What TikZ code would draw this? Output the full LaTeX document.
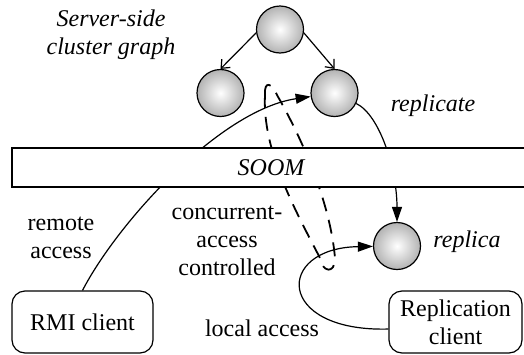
\documentclass[tikz,border=0pt]{standalone}
\usepackage{fontspec}
\setmainfont{Liberation Serif}
\usetikzlibrary{arrows.meta}
\begin{document}
\begin{tikzpicture}[x=0.5pt,y=-0.5pt,
  txt/.style={font=\fontsize{12}{14}\selectfont, inner sep=0pt, align=center},
  itxt/.style={txt, font=\fontsize{12}{14}\selectfont\itshape},
  ball/.style={circle, draw, line width=0.6pt, minimum size=23.5pt, inner sep=0pt,
    inner color=white, outer color=black!30},
  clientbox/.style={txt, draw, line width=0.6pt, rounded corners=6.5pt, minimum height=31pt},
  link/.style={line width=0.6pt},
  solidhead/.style={link, -{Triangle[length=7.5pt,width=5pt]}},
  barbhead/.style={link, -{Straight Barb[length=3.5pt,width=6pt]}},
  dashloop/.style={line width=0.9pt, dash pattern=on 7pt off 4.5pt}]
\useasboundingbox (0,0) rectangle (524,354);
\clip (0,0) rectangle (524,354);

% cluster graph objects and the replica
\node[ball] (top)  at (280,29.5) {};
\node[ball] (left) at (220.5,93) {};
\node[ball] (src)  at (334.5,93) {};
\node[ball] (rep)  at (397,246) {};

% clients
\node[clientbox, minimum width=70.5pt] (rmi) at (82.5,322) {RMI client};
\node[clientbox, minimum width=66.5pt] (rcl) at (455.5,322) {Replication\\client};

% labels
\node[itxt] (graphlabel)     at (111,35)  {Server-side\\cluster graph};
\node[itxt] (replicatelabel) at (433,106) {replicate};
\node[itxt] (replicalabel)   at (467,242) {replica};
\node[txt]  (remotelabel)    at (61,238)  {remote\\access};
\node[txt]  (cclabel)        at (227,241) {concurrent-\\access\\controlled};
\node[txt]  (locallabel)     at (262,328) {local access};

% graph edges
\draw[barbhead] (top.188) -- (left.north);
\draw[barbhead] (top.-8) -- (src.north);

% access paths
\draw[solidhead] (rmi.north) .. controls (118,222) and (220,110) .. (src);
\draw[solidhead] (src) .. controls (380,115) and (397,170) .. (rep.north);
\draw[solidhead] (rcl.186) .. controls (275,332) and (275,248) .. (rep);

% concurrency control band
\draw[dashloop] (265,95) .. controls (264,80) and (272,83) .. (277,95)
  .. controls (300,135) and (330,200) .. (335,258)
  .. controls (335,275) and (322,272) .. (320,258)
  .. controls (295,210) and (262,150) .. (265,95);

% middleware layer on top
\node[itxt, draw, fill=white, line width=0.6pt, minimum width=259pt, minimum height=19.5pt]
  (soom) at (271,167.5) {SOOM};
\end{tikzpicture}
\end{document}
